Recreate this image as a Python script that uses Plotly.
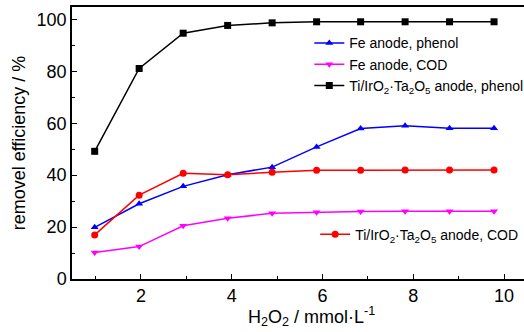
import plotly.graph_objects as go

# H2O2 dosage (mmol/L)
h2o2 = [0.98, 1.96, 2.93, 3.91, 4.89, 5.87, 6.84, 7.82, 8.80, 9.78]

# Removal efficiency (%)
fe_phenol = [19.9, 29.0, 35.7, 40.2, 43.1, 50.9, 58.0, 59.0, 58.1, 58.1]
fe_cod = [10.2, 12.5, 20.5, 23.4, 25.3, 25.7, 26.0, 26.1, 26.1, 26.1]
ti_phenol = [49.2, 81.1, 94.7, 97.7, 98.7, 99.1, 99.1, 99.1, 99.1, 99.1]
ti_cod = [17.0, 32.3, 40.7, 40.2, 41.1, 41.9, 41.9, 42.0, 42.0, 42.0]

x_ticks = [2, 4, 6, 8, 10]
y_ticks = [0, 20, 40, 60, 80, 100]

FONT = "Liberation Sans, Arial, sans-serif"

series = [
    ("Fe anode, phenol", fe_phenol, "#0000FF", "triangle-up", "legend"),
    ("Fe anode, COD", fe_cod, "#FF00FF", "triangle-down", "legend"),
    ("Ti/IrO<sub>2</sub>·Ta<sub>2</sub>O<sub>5</sub> anode, phenol", ti_phenol, "#000000", "square", "legend"),
    ("Ti/IrO<sub>2</sub>·Ta<sub>2</sub>O<sub>5</sub> anode, COD", ti_cod, "#FF0000", "circle", "legend2"),
]

fig = go.Figure()
for name, vals, color, sym, leg in series:
    fig.add_trace(go.Scatter(
        x=h2o2, y=vals, name=name, mode="lines+markers",
        line=dict(color=color, width=1.5),
        marker=dict(symbol=sym, size=7, color=color),
        legend=leg,
    ))

fig.update_layout(
    width=524, height=332,
    margin=dict(l=72, r=0, t=7, b=53, autoexpand=False),
    paper_bgcolor="white", plot_bgcolor="white",
    font=dict(family=FONT, color="black"),
    legend=dict(x=0.525, y=0.925, xanchor="left", yanchor="top",
                bgcolor="rgba(0,0,0,0)", font=dict(size=14),
                itemwidth=30, tracegroupgap=0),
    legend2=dict(x=0.538, y=0.163, xanchor="left", yanchor="middle",
                 bgcolor="rgba(0,0,0,0)", font=dict(size=14), itemwidth=30),
    annotations=[dict(
        text="H<sub>2</sub>O<sub>2</sub> / mmol·L<sup>-1</sup>",
        xref="paper", yref="paper", x=0.529, y=-0.085,
        xanchor="center", yanchor="top", showarrow=False,
        font=dict(size=18),
    )],
)

fig.update_xaxes(
    range=[0.48, 10.44], showgrid=False, zeroline=False,
    showline=True, linecolor="black", linewidth=1.5, mirror=True,
    tickvals=x_ticks, ticks="inside", ticklen=5, tickwidth=1, tickcolor="black",
    minor=dict(tickvals=[1, 3, 5, 7, 9], ticks="inside", ticklen=3, tickcolor="black"),
    tickfont=dict(size=18),
)
fig.update_yaxes(
    range=[0, 104.8], showgrid=False, zeroline=False,
    showline=True, linecolor="black", linewidth=1.5,
    tickvals=y_ticks, ticks="inside", ticklen=5, tickwidth=1, tickcolor="black",
    minor=dict(tickvals=[10, 30, 50, 70, 90], ticks="inside", ticklen=3, tickcolor="black"),
    tickfont=dict(size=18),
    title=dict(text="removel efficiency / %", font=dict(size=18), standoff=6),
)

fig.write_html("out.html")
